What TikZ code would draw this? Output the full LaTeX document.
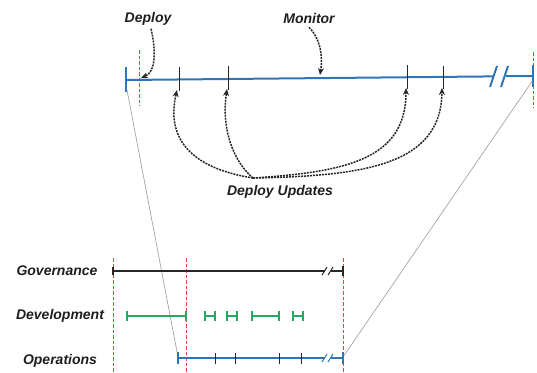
\documentclass[tikz,border=0pt]{standalone}
\usepackage{fontspec}
\setmainfont{Liberation Sans}
\usetikzlibrary{arrows.meta}
\definecolor{tlblue}{RGB}{46,117,182}
\definecolor{tlgreen}{RGB}{38,168,98}
\definecolor{tlred}{RGB}{225,70,60}
\definecolor{tlgray}{RGB}{165,165,165}
\definecolor{txt}{RGB}{30,30,30}
\begin{document}
\begin{tikzpicture}[x=1pt,y=-1pt,
  lbl/.style={font=\fontsize{14}{16}\selectfont\bfseries\itshape, text=txt, inner sep=0pt},
  bluetl/.style={draw=tlblue, line width=2pt},
  bluebot/.style={draw=tlblue, line width=1.4pt},
  blacktl/.style={draw=black!85, line width=1.4pt},
  greentl/.style={draw=tlgreen, line width=1.7pt},
  tickmark/.style={draw=black!85, line width=1pt},
  reddash/.style={draw=tlred, line width=1.3pt, dash pattern=on 3.5pt off 2pt},
  grayline/.style={draw=tlgray, line width=0.7pt},
  callout/.style={draw=black!85, line width=1.5pt, dash pattern=on 2pt off 1pt, -{Stealth[length=7pt,width=6pt]}}
]
\useasboundingbox (0,0) rectangle (537,372);

% ---------- red dashed guides ----------
\draw[reddash] (139.5,50) -- (139.5,106);
\draw[reddash] (533.5,52) -- (533.5,108);
\draw[reddash] (113.5,258) -- (113.5,372);
\draw[reddash] (186.5,258) -- (186.5,372);
\draw[reddash] (343.5,258) -- (343.5,372);

% ---------- gray projection lines ----------
\coordinate (tlbot) at (127,90);
\coordinate (trbot) at (533,80);
\coordinate (opsL) at (178,357);
\coordinate (opsR) at (343,357);
\draw[grayline] (tlbot) -- (opsL);
\draw[grayline] (trbot) -- (opsR);

% ---------- top timeline ----------
\draw[bluetl] (126,80) -- (493,76.4);
\draw[bluetl] (506,76.2) -- (533,76);
\draw[bluetl] (126,67) -- (126,92);
\draw[bluetl] (533,65) -- (533,87);
\draw[bluetl] (490,87) -- (497,66);
\draw[bluetl] (501,87) -- (508,66);

\draw[tickmark] (179,67) -- (179,91);
\draw[tickmark] (228,66) -- (228,90);
\draw[tickmark] (407,65) -- (407,89);
\draw[tickmark] (443,66) -- (443,89);

\coordinate (tip1) at (177,90);
\coordinate (tip2) at (227,89);
\coordinate (tip3) at (406,88);
\coordinate (tip4) at (442,88);
\coordinate (deptip) at (141,78);
\coordinate (montip) at (320,75);

% ---------- labels ----------
\node[lbl] (deploy) at (148,19) {Deploy};
\node[lbl] (monitor) at (309,18) {Monitor};
\node[lbl] (updates) at (280,192) {Deploy Updates};
\coordinate (hub) at (253,178);

\draw[callout] (deploy.south) ++(3,3) .. controls (156,50) and (156,72) .. (deptip);
\draw[callout] (monitor.south) ++(0,4) .. controls (320,38) and (323,55) .. (montip);

\draw[callout] (hub) .. controls (190,168) and (166,138) .. (tip1);
\draw[callout] (hub) .. controls (234,162) and (221,130) .. (tip2);
\draw[callout] (hub) .. controls (345,172) and (406,160) .. (tip3);
\draw[callout] (hub) .. controls (365,176) and (441,165) .. (tip4);

% ---------- bottom rows ----------
\node[lbl] (gov) at (57,271) {Governance};
\node[lbl] (dev) at (60,316) {Development};
\node[lbl] (ops) at (60,361) {Operations};

% Governance
\draw[blacktl] (113,271) -- (325,271);
\draw[blacktl] (331,271) -- (343,271);
\draw[blacktl] (113,267) -- (113,275);
\draw[blacktl] (343,266) -- (343,276);
\draw[draw=black!85, line width=1pt] (322,275) -- (327,267);
\draw[draw=black!85, line width=1pt] (328,275) -- (333,267);

% Development
\foreach \a/\b in {127/186, 205/215, 227/237, 252/279, 293/303}{
  \draw[greentl] (\a,316) -- (\b,316);
  \draw[greentl] (\a,311) -- (\a,321);
  \draw[greentl] (\b,311) -- (\b,321);
}

% Operations
\draw[bluebot] (opsL) ++(0,1) -- (325,358);
\draw[bluebot] (331,358) -- (343,358);
\draw[bluebot] (178,352) -- (178,364);
\draw[bluebot] (343,352) -- (343,364);
\draw[draw=tlblue, line width=1pt] (322,362) -- (327,354);
\draw[draw=tlblue, line width=1pt] (328,362) -- (333,354);
\foreach \x in {215,235,279,301}{
  \draw[tickmark] (\x,353) -- (\x,364);
}
\end{tikzpicture}
\end{document}
